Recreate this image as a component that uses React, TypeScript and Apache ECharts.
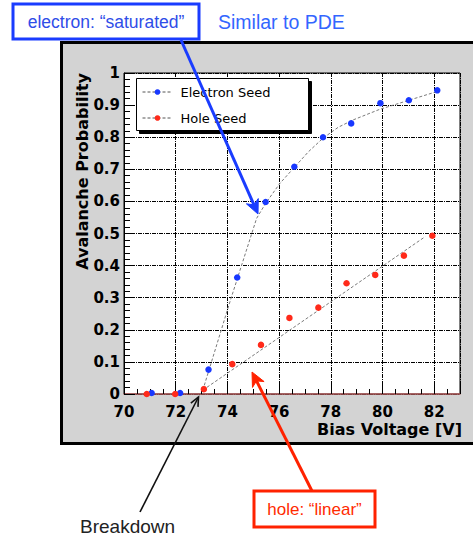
import React, { useEffect, useRef } from 'react';
import * as echarts from 'echarts';

// ---- data ----
const electronVoltage = [71.07, 72.17, 73.27, 74.38, 75.48, 76.59, 77.7, 78.79, 79.92, 81.02, 82.12];
const electronProb = [0.003, 0.003, 0.076, 0.363, 0.598, 0.708, 0.8, 0.843, 0.906, 0.915, 0.946];
const holeVoltage = [70.88, 71.98, 73.09, 74.19, 75.3, 76.4, 77.52, 78.61, 79.72, 80.83, 81.93];
const holeProb = [0.0, 0.0, 0.015, 0.093, 0.153, 0.237, 0.269, 0.345, 0.371, 0.431, 0.493];
const electronFitVoltage = [73.05, 74.07, 75.13, 75.48, 76.03, 76.59, 77.14, 77.7, 78.29, 78.87, 79.9, 82.1];
const electronFitProb = [0.012, 0.28, 0.547, 0.594, 0.656, 0.706, 0.755, 0.797, 0.831, 0.854, 0.887, 0.942];
const holeFitVoltage = [73.05, 81.65];
const holeFitProb = [0.012, 0.49];
const seriesNames = ['Electron Seed', 'Hole Seed'];
const xAxisTitle = 'Bias Voltage [V]';
const yAxisTitle = 'Avalanche Probability';

const zip = (xs: number[], ys: number[]) => xs.map((x, i) => [x, ys[i]]);

function arrow(
  x1: number, y1: number, x2: number, y2: number,
  color: string, lw: number, len: number, half: number, notch: number, filled: boolean
) {
  const dx = x2 - x1, dy = y2 - y1;
  const L = Math.hypot(dx, dy);
  const ux = dx / L, uy = dy / L;
  const nx = -uy, ny = ux;
  const bx = x2 - ux * len, by = y2 - uy * len;
  const w1 = [bx + nx * half, by + ny * half];
  const w2 = [bx - nx * half, by - ny * half];
  const back = [x2 - ux * notch, y2 - uy * notch];
  const els: any[] = [];
  els.push({
    type: 'line', z: 100, silent: true,
    shape: filled ? { x1, y1, x2: back[0], y2: back[1] } : { x1, y1, x2, y2 },
    style: { stroke: color, lineWidth: lw },
  });
  if (filled) {
    els.push({
      type: 'polygon', z: 100, silent: true,
      shape: { points: [[x2, y2], w1, back, w2] },
      style: { fill: color, stroke: color, lineWidth: 1 },
    });
  } else {
    els.push({
      type: 'polyline', z: 100, silent: true,
      shape: { points: [w1, [x2, y2], w2] },
      style: { stroke: color, lineWidth: lw, fill: 'none' },
    });
  }
  return els;
}

export default function App() {
  const ref = useRef<HTMLDivElement>(null);
  useEffect(() => {
    if (!ref.current) return;
    const chart = echarts.init(ref.current, undefined, { renderer: 'svg' });
    const axisFont = 'DejaVu Sans';
    const gridLine = { show: true, lineStyle: { color: '#000', type: [4, 1, 1, 1], width: 1 } };
    const option: any = {
      animation: false,
      grid: {
        left: 124, top: 73, width: 336, height: 321,
        show: true, backgroundColor: '#ffffff', borderColor: '#000', borderWidth: 1,
        outerBoundsMode: 'none', containLabel: false,
      },
      legend: {
        data: seriesNames,
        orient: 'vertical',
        left: 142, top: 84, padding: 0,
        itemGap: 10, itemWidth: 30, itemHeight: 7,
        selectedMode: false, z: 20,
        lineStyle: { color: '#555', width: 1, type: [3, 2], opacity: 1 },
        textStyle: { fontFamily: axisFont, fontSize: 13, color: '#000', lineHeight: 16, padding: [0, 0, 0, 3] },
      },
      xAxis: {
        type: 'value', min: 70, max: 83, interval: 2,
        name: xAxisTitle, nameLocation: 'end', nameGap: 2, nameMoveOverlap: false,
        nameTextStyle: {
          fontFamily: axisFont, fontWeight: 'bold', fontSize: 16, color: '#000',
          align: 'right', verticalAlign: 'top', padding: [27, 0, 0, 0],
        },
        axisLine: { show: true, onZero: false, lineStyle: { color: '#b05a5a', width: 1.5 } },
        axisTick: { show: true, inside: true, length: 9, lineStyle: { color: '#000' } },
        minorTick: { show: true, splitNumber: 4, length: 5, lineStyle: { color: '#000' } },
        axisLabel: {
          margin: 10, fontFamily: axisFont, fontWeight: 'bold', fontSize: 15, color: '#000',
          formatter: (v: number) => (Math.abs(v % 2) < 1e-9 ? String(Math.round(v)) : ''),
        },
        splitLine: gridLine,
      },
      yAxis: {
        type: 'value', min: 0, max: 1, interval: 0.1,
        name: yAxisTitle, nameLocation: 'end', nameGap: 0, nameRotate: 90, nameMoveOverlap: false,
        nameTextStyle: {
          fontFamily: axisFont, fontWeight: 'bold', fontSize: 16, color: '#000',
          align: 'right', verticalAlign: 'bottom', padding: [0, 0, 34, 0],
        },
        axisLine: { show: true, lineStyle: { color: '#000', width: 1 } },
        axisTick: { show: true, inside: true, length: 11, lineStyle: { color: '#000' } },
        minorTick: { show: true, splitNumber: 5, length: 6, lineStyle: { color: '#000' } },
        axisLabel: {
          margin: 4, fontFamily: axisFont, fontWeight: 'bold', fontSize: 15, color: '#000',
          padding: [4, 0, 0, 0],
          formatter: (v: number) => (Math.abs(v) < 1e-9 ? '0' : Math.abs(v - 1) < 1e-9 ? '1' : v.toFixed(1)),
        },
        splitLine: gridLine,
      },
      series: [
        {
          name: 'electron fit', type: 'line', data: zip(electronFitVoltage, electronFitProb),
          symbol: 'none', showSymbol: false, silent: true, z: 2,
          lineStyle: { color: '#7a7a7a', width: 1, type: [3, 2] },
        },
        {
          name: 'hole fit', type: 'line', data: zip(holeFitVoltage, holeFitProb),
          symbol: 'none', showSymbol: false, silent: true, z: 2,
          lineStyle: { color: '#7a7a7a', width: 1, type: [3, 2] },
        },
        {
          name: seriesNames[0], type: 'line', data: zip(electronVoltage, electronProb),
          symbol: 'circle', symbolSize: 6.5, showSymbol: true, z: 3,
          color: '#1838ff',
          lineStyle: { width: 0, opacity: 0 },
          itemStyle: { color: '#1838ff', borderWidth: 0 },
        },
        {
          name: seriesNames[1], type: 'line', data: zip(holeVoltage, holeProb),
          symbol: 'circle', symbolSize: 6.5, showSymbol: true, z: 3,
          color: '#ff2a1a',
          lineStyle: { width: 0, opacity: 0 },
          itemStyle: { color: '#ff2a1a', borderWidth: 0 },
        },
      ],
      graphic: {
        elements: [
          {
            type: 'rect', z: -1, silent: true,
            shape: { x: 61.5, y: 42.5, width: 430, height: 401 },
            style: { fill: '#d3d3d3', stroke: '#000', lineWidth: 3 },
          },
          {
            type: 'rect', z: 15, silent: true,
            shape: { x: 139.5, y: 81.5, width: 172, height: 52 },
            style: { fill: '#000', stroke: '#000', lineWidth: 1 },
          },
          {
            type: 'rect', z: 16, silent: true,
            shape: { x: 136.5, y: 78.5, width: 172, height: 52 },
            style: { fill: '#fff', stroke: '#000', lineWidth: 1 },
          },
          {
            type: 'rect', z: 100, silent: true,
            shape: { x: 13, y: 4, width: 186, height: 35 },
            style: { fill: '#fff', stroke: '#1a3cff', lineWidth: 3 },
          },
          {
            type: 'text', z: 101, silent: true, x: 106, y: 22,
            style: {
              text: 'electron: “saturated”', fill: '#2f4de8',
              fontSize: 17.5, fontFamily: 'Liberation Sans',
              align: 'center', verticalAlign: 'middle', textAlign: 'center', textVerticalAlign: 'middle',
            },
          },
          {
            type: 'text', z: 101, silent: true, x: 218, y: 22,
            style: {
              text: 'Similar to PDE', fill: '#3366ff',
              fontSize: 19.5, fontFamily: 'Liberation Sans',
              align: 'left', verticalAlign: 'middle', textAlign: 'left', textVerticalAlign: 'middle',
            },
          },
          {
            type: 'rect', z: 100, silent: true,
            shape: { x: 254, y: 491, width: 121, height: 36 },
            style: { fill: '#fff', stroke: '#ff2200', lineWidth: 3 },
          },
          {
            type: 'text', z: 101, silent: true, x: 314.5, y: 509.5,
            style: {
              text: 'hole: “linear”', fill: '#ff2a00',
              fontSize: 17, fontFamily: 'Liberation Sans',
              align: 'center', verticalAlign: 'middle', textAlign: 'center', textVerticalAlign: 'middle',
            },
          },
          {
            type: 'text', z: 101, silent: true, x: 80, y: 526,
            style: {
              text: 'Breakdown', fill: '#222',
              fontSize: 19, fontFamily: 'Liberation Sans',
              align: 'left', verticalAlign: 'middle', textAlign: 'left', textVerticalAlign: 'middle',
            },
          },
          ...arrow(181, 40, 258, 214, '#1a3cff', 3, 14, 6.5, 10, true),
          ...arrow(312, 491, 252, 372, '#ff2200', 3, 14, 6.5, 10, true),
          ...arrow(140, 512, 198.5, 397, '#111', 1.6, 9, 4, 0, false),
        ],
      },
    };
    chart.setOption(option);
    return () => chart.dispose();
  }, []);
  return (
    <div
      ref={ref}
      style={{ position: 'absolute', left: 0, top: 0, width: 473, height: 539, background: '#fff' }}
    />
  );
}
